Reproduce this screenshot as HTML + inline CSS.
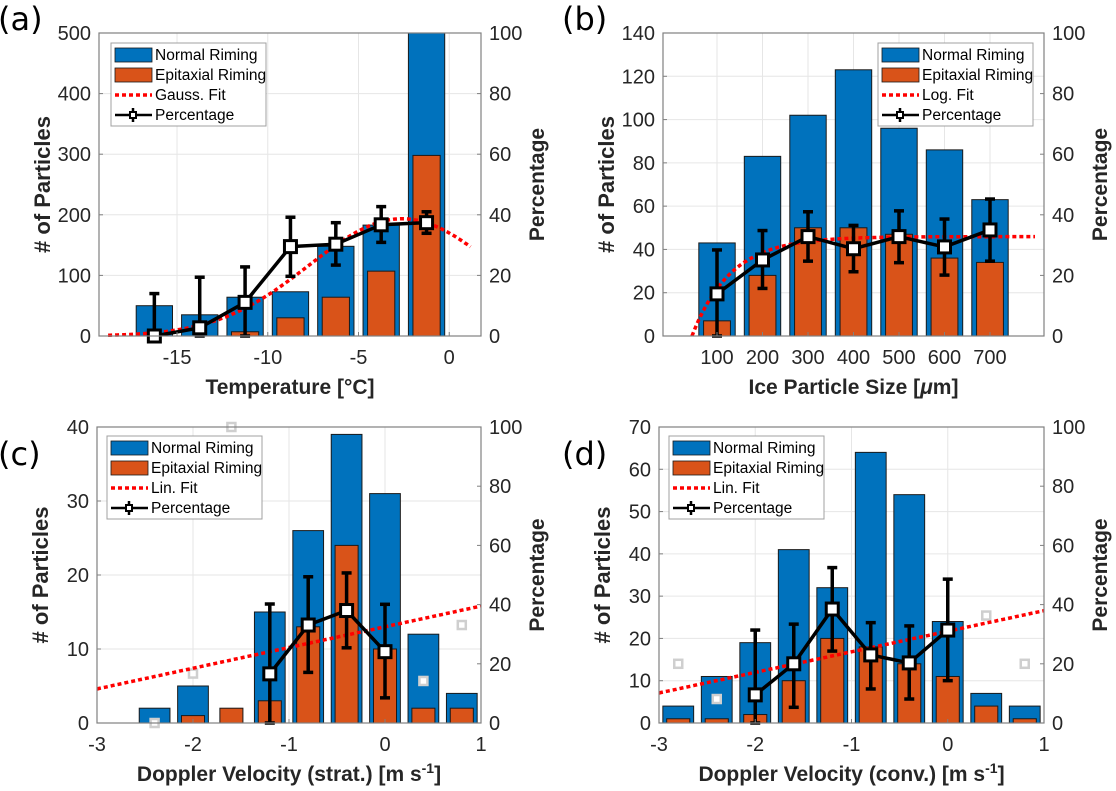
<!DOCTYPE html>
<html><head><meta charset="utf-8"><style>
html,body{margin:0;padding:0;background:#fff;}
svg{display:block;font-family:"Liberation Sans",Arial,sans-serif;}
</style></head><body>
<svg id="fig" width="1116" height="791" viewBox="0 0 1116 791" xmlns="http://www.w3.org/2000/svg"></svg>
<script>
// ---------- data (a) ----------
const aCenters=[-16.25,-13.75,-11.25,-8.75,-6.25,-3.75,-1.25];
const aNormal=[50,35,64,73,148,183,500];
const aEpi=[0,0,7,30,64,107,298];
const aPct=[0,2.7,11.1,29.5,30.3,36.7,37.4];
const aErrLo=[0,0,0,19.7,23.4,30.9,33.9];
const aErrHi=[14,19.4,22.8,39.2,37.4,42.7,41];
const aFit={A:38.7,mu:-2.6,sigma:5.1,from:-18.8,to:1.17};
const aLeftTicks=[0,100,200,300,400,500];
const aXTicks=[-15,-10,-5,0];
// ---------- data (b) ----------
const bCenters=[100,200,300,400,500,600,700];
const bNormal=[43,83,102,123,96,86,63];
const bEpi=[7,28,50,50,47,36,34];
const bPct=[13.9,25.1,32.8,28.8,32.8,29.4,35];
const bErrLo=[0,15.7,24.7,21.2,24.2,20.1,24.7];
const bErrHi=[28.4,34.8,41,36.5,41.3,38.6,45.2];
const bFit={A:32.8,x0:45,c:85,from:45,to:799};
const bLeftTicks=[0,20,40,60,80,100,120,140];
const bXTicks=[100,200,300,400,500,600,700];
// ---------- data (c) ----------
const cCenters=[-2.4,-2.0,-1.6,-1.2,-0.8,-0.4,0,0.4,0.8];
const cNormal=[2,5,0,15,26,39,31,12,4];
const cEpi=[0,1,2,3,13,24,10,2,2];
const cPctX=[-1.2,-0.8,-0.4,0];
const cPct=[16.6,33.1,38,24.1];
const cErrLo=[0,17.1,25.4,8.5];
const cErrHi=[40.2,49.4,50.7,40.1];
const cGrayX=[-2.4,-2.0,-1.6,0.4,0.8];
const cGray=[0,16.7,100,14.2,33.1];
const cFit={slope:7,intercept:32.5};
const cLeftTicks=[0,10,20,30,40];
const cXTicks=[-3,-2,-1,0,1];
// ---------- data (d) ----------
const dCenters=[-2.8,-2.4,-2.0,-1.6,-1.2,-0.8,-0.4,0,0.4,0.8];
const dNormal=[4,11,19,41,32,64,54,24,7,4];
const dEpi=[1,1,2,10,20,18,14,11,4,1];
const dPctX=[-2.0,-1.6,-1.2,-0.8,-0.4,0];
const dPct=[9.5,20,38.5,23,20.3,31.4];
const dErrLo=[0,5.3,24.3,11.5,8.1,14.3];
const dErrHi=[31.4,33.4,52.5,33.9,32.8,48.6];
const dGrayX=[-2.8,-2.4,0.4,0.8];
const dGray=[20,8.1,36.3,20];
const dFit={slope:6.95,intercept:31};
const dLeftTicks=[0,10,20,30,40,50,60,70];
const dXTicks=[-3,-2,-1,0,1];
const rightTicks=[0,20,40,60,80,100];

const NS="http://www.w3.org/2000/svg";
const svg=document.getElementById('fig');
function mk(tag,attrs,parent,txt){
  const e=document.createElementNS(NS,tag);
  for(const k in attrs)e.setAttribute(k,attrs[k]);
  if(txt!==undefined)e.textContent=txt;
  (parent||svg).appendChild(e);return e;
}
function grp(name,parent){
  const g=mk('g',{},parent);
  
  
  return g;
}

function panel(o){
  const P=grp('panel-'+o.id);
  const sx=v=>o.l+(v-o.xmin)/(o.xmax-o.xmin)*(o.r-o.l);
  const sy=v=>o.b-v/o.ymax*(o.b-o.t);
  const sp=v=>o.b-v/100*(o.b-o.t);
  const G=grp('grid',P);
  o.xticks.forEach(v=>{mk('line',{x1:sx(v),x2:sx(v),y1:o.t,y2:o.b,stroke:'#e6e6e6','stroke-width':1},G);});
  o.lticks.forEach(v=>{mk('line',{x1:o.l,x2:o.r,y1:sy(v),y2:sy(v),stroke:'#e6e6e6','stroke-width':1},G);});
  const B=grp('bars',P);
  o.centers.forEach((c,i)=>{
    if(o.normal[i]>0){
      const r=mk('rect',{x:sx(c-o.bw/2),y:sy(o.normal[i]),width:sx(c+o.bw/2)-sx(c-o.bw/2),height:o.b-sy(o.normal[i]),fill:'#0072bd',stroke:'#1a1a1a','stroke-width':1},B);
      
      
    }
    if(o.epi[i]>0){
      const r=mk('rect',{x:sx(c-o.ow/2),y:sy(o.epi[i]),width:sx(c+o.ow/2)-sx(c-o.ow/2),height:o.b-sy(o.epi[i]),fill:'#d95319',stroke:'#1a1a1a','stroke-width':1},B);
      
      
    }
  });
  if(o.grayX){o.grayX.forEach((x,i)=>{
    const r=mk('rect',{x:sx(x)-4,y:sp(o.gray[i])-4,width:8,height:8,fill:'#fff',stroke:'#cfcfcf','stroke-width':2.5},P);
    
    
  });}
  let pts=[];
  for(let k=0;k<=200;k++){const x=o.fitFrom+(o.fitTo-o.fitFrom)*k/200;pts.push(sx(x).toFixed(1)+','+sp(o.fit(x)).toFixed(1));}
  const fl=mk('polyline',{points:pts.join(' '),fill:'none',stroke:'#ff0000','stroke-width':3.5,'stroke-dasharray':'4 3'},P);
  
  
  const L=grp('percentage-series',P);
  o.pctX.forEach((x,i)=>{
    const X=sx(x);
    mk('line',{x1:X,x2:X,y1:sp(o.lo[i]),y2:sp(o.hi[i]),stroke:'#000','stroke-width':3.5},L);
    mk('line',{x1:X-5,x2:X+5,y1:sp(o.lo[i]),y2:sp(o.lo[i]),stroke:'#000','stroke-width':3.5},L);
    mk('line',{x1:X-5,x2:X+5,y1:sp(o.hi[i]),y2:sp(o.hi[i]),stroke:'#000','stroke-width':3.5},L);
  });
  mk('polyline',{points:o.pctX.map((x,i)=>sx(x)+','+sp(o.pct[i])).join(' '),fill:'none',stroke:'#000','stroke-width':3.5},L);
  o.pctX.forEach((x,i)=>{
    const m=mk('rect',{x:sx(x)-6,y:sp(o.pct[i])-6,width:12,height:12,fill:'#fff',stroke:'#000','stroke-width':3},L);
    
    
  });
  mk('rect',{x:o.l,y:o.t,width:o.r-o.l,height:o.b-o.t,fill:'none',stroke:'#808080','stroke-width':1.2},P);
  const T=grp('tick-labels',P);
  o.xticks.forEach(v=>{mk('line',{x1:sx(v),x2:sx(v),y1:o.b,y2:o.b-4,stroke:'#808080'},T);mk('text',{x:sx(v),y:o.b+28,'text-anchor':'middle','font-size':20,fill:'#262626'},T,String(v));});
  o.lticks.forEach(v=>{mk('line',{x1:o.l,x2:o.l+4,y1:sy(v),y2:sy(v),stroke:'#808080'},T);mk('text',{x:o.l-8,y:sy(v)+7,'text-anchor':'end','font-size':20,fill:'#262626'},T,String(v));});
  rightTicks.forEach(v=>{mk('line',{x1:o.r,x2:o.r-4,y1:sp(v),y2:sp(v),stroke:'#808080'},T);mk('text',{x:o.r+8,y:sp(v)+7,'font-size':20,fill:'#262626'},T,String(v));});
  const xt=mk('text',{x:(o.l+o.r)/2,y:o.b+58,'text-anchor':'middle','font-size':21,'font-weight':'bold',fill:'#262626'},P);
  xt.innerHTML=o.xlabel;
  
  
  const yt=mk('text',{transform:`translate(${o.l-49},${(o.t+o.b)/2}) rotate(-90)`,'text-anchor':'middle','font-size':22,'font-weight':'bold',fill:'#262626'},P,'# of Particles');
  
  
  const rt=mk('text',{transform:`translate(${o.r+63},${(o.t+o.b)/2}) rotate(-90)`,'text-anchor':'middle','font-size':21,'font-weight':'bold',fill:'#262626'},P,'Percentage');
  
  
  const pl=mk('text',{x:o.lx,y:o.ly,'font-size':32,fill:'#000','font-family':'"DejaVu Sans",sans-serif'},P,'('+o.id+')');
  
  
  const Lg=grp('legend',P);
  const lx=o.legX,ly=o.legY;
  mk('rect',{x:lx,y:ly,width:155,height:83,fill:'#fff',stroke:'#a0a0a0','stroke-width':1},Lg);
  mk('rect',{x:lx+4,y:ly+5,width:37,height:14,fill:'#0072bd',stroke:'#1a1a1a','stroke-width':0.8},Lg);
  mk('rect',{x:lx+4,y:ly+25,width:37,height:14,fill:'#d95319',stroke:'#1a1a1a','stroke-width':0.8},Lg);
  mk('line',{x1:lx+4,x2:lx+41,y1:ly+52,y2:ly+52,stroke:'#ff0000','stroke-width':3.5,'stroke-dasharray':'4 3'},Lg);
  mk('line',{x1:lx+4,x2:lx+41,y1:ly+72,y2:ly+72,stroke:'#000','stroke-width':2.5},Lg);
  mk('line',{x1:lx+22,x2:lx+22,y1:ly+65,y2:ly+79,stroke:'#000','stroke-width':2.5},Lg);
  mk('rect',{x:lx+19,y:ly+69,width:6,height:6,fill:'#fff',stroke:'#000','stroke-width':2},Lg);
  const names=['Normal Riming','Epitaxial Riming',o.fitName,'Percentage'];
  names.forEach((n,i)=>{const t=mk('text',{x:lx+44,y:ly+17+i*20,'font-size':15.5,fill:'#000'},Lg,n);
    
    });
}

panel({id:'a',l:99,r:481,t:33,b:336,xmin:-19.3,xmax:1.75,ymax:500,bw:2,ow:1.5,
  centers:aCenters,normal:aNormal,epi:aEpi,pctX:aCenters,pct:aPct,lo:aErrLo,hi:aErrHi,
  fit:x=>aFit.A*Math.exp(-Math.pow(x-aFit.mu,2)/(2*aFit.sigma*aFit.sigma)),fitFrom:aFit.from,fitTo:aFit.to,
  xticks:aXTicks,lticks:aLeftTicks,xlabel:'Temperature [°C]',fitName:'Gauss. Fit',
  legX:111,legY:43,lx:-2,ly:30});
panel({id:'b',l:663,r:1044,t:33,b:336,xmin:-18.7,xmax:818.7,ymax:140,bw:80,ow:59,
  centers:bCenters,normal:bNormal,epi:bEpi,pctX:bCenters,pct:bPct,lo:bErrLo,hi:bErrHi,
  fit:x=>Math.max(0,bFit.A*(1-Math.exp(-(x-bFit.x0)/bFit.c))),fitFrom:bFit.from,fitTo:bFit.to,
  xticks:bXTicks,lticks:bLeftTicks,xlabel:'Ice Particle Size [<tspan font-style="italic">μ</tspan>m]',fitName:'Log. Fit',
  legX:878,legY:43,lx:562,ly:30});
panel({id:'c',l:97,r:481,t:427,b:723,xmin:-3,xmax:1,ymax:40,bw:0.32,ow:0.24,
  centers:cCenters,normal:cNormal,epi:cEpi,pctX:cPctX,pct:cPct,lo:cErrLo,hi:cErrHi,grayX:cGrayX,gray:cGray,
  fit:x=>cFit.slope*x+cFit.intercept,fitFrom:-3,fitTo:1,
  xticks:cXTicks,lticks:cLeftTicks,xlabel:'Doppler Velocity (strat.) [m s<tspan dy="-8" font-size="14">-1</tspan><tspan dy="8">]</tspan>',fitName:'Lin. Fit',
  legX:107,legY:436,lx:-2,ly:465});
panel({id:'d',l:659,r:1044,t:427,b:723,xmin:-3,xmax:1,ymax:70,bw:0.32,ow:0.24,
  centers:dCenters,normal:dNormal,epi:dEpi,pctX:dPctX,pct:dPct,lo:dErrLo,hi:dErrHi,grayX:dGrayX,gray:dGray,
  fit:x=>dFit.slope*x+dFit.intercept,fitFrom:-3,fitTo:1,
  xticks:dXTicks,lticks:dLeftTicks,xlabel:'Doppler Velocity (conv.) [m s<tspan dy="-8" font-size="14">-1</tspan><tspan dy="8">]</tspan>',fitName:'Lin. Fit',
  legX:669,legY:436,lx:562,ly:465});
</script>
</body></html>
